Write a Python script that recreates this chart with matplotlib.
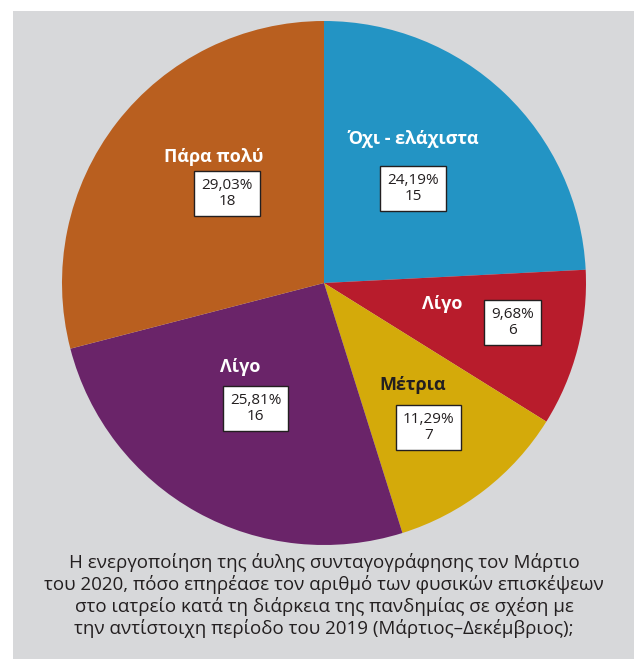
import matplotlib.pyplot as plt
from matplotlib.patches import Rectangle

plt.rcParams['font.family'] = ['Open Sans', 'DejaVu Sans']

# δεδομένα
labels = ["Όχι - ελάχιστα", "Λίγο", "Μέτρια", "Λίγο", "Πάρα πολύ"]
counts = [15, 6, 7, 16, 18]
percents = ["24,19%", "9,68%", "11,29%", "25,81%", "29,03%"]
colors = ["#2394c4", "#b81c2c", "#d4aa0a", "#6a2469", "#b95f1f"]
label_colors = ["white", "white", "#231f20", "white", "white"]

# θέσεις ετικετών (συντεταγμένες πίτας, ακτίνα 1)
label_pos = [(0.34, 0.55), (0.45, -0.08), (0.34, -0.39), (-0.32, -0.32), (-0.42, 0.48)]
box_pos = [(0.34, 0.36), (0.72, -0.15), (0.40, -0.55), (-0.26, -0.48), (-0.37, 0.34)]

caption = ("Η ενεργοποίηση της άυλης συνταγογράφησης τον Μάρτιο\n"
           "του 2020, πόσο επηρέασε τον αριθμό των φυσικών επισκέψεων\n"
           "στο ιατρείο κατά τη διάρκεια της πανδημίας σε σχέση με\n"
           "την αντίστοιχη περίοδο του 2019 (Μάρτιος–Δεκέμβριος);")

W, H = 634, 659
fig = plt.figure(figsize=(W / 100, H / 100), dpi=100)
fig.patch.set_facecolor("white")
fig.patches.append(Rectangle((13 / W, 0), 1 - 13 / W, 1 - 11 / H,
                             transform=fig.transFigure, facecolor="#d7d8da",
                             edgecolor="none", zorder=-10))

cx, cy, r = 324, 283, 262
ax = fig.add_axes([(cx - r) / W, (H - cy - r) / H, 2 * r / W, 2 * r / H])
ax.set_facecolor("none")
ax.pie(counts, colors=colors, startangle=90, counterclock=False,
       wedgeprops=dict(linewidth=0), radius=1)
ax.set_xlim(-1, 1)
ax.set_ylim(-1, 1)
ax.set_aspect("equal")
ax.axis("off")

for lab, lc, (lx, ly), (bx, by), p, c in zip(labels, label_colors, label_pos,
                                             box_pos, percents, counts):
    ax.text(lx, ly, lab, color=lc, fontsize=13, fontweight="bold",
            ha="center", va="center")
    ax.text(bx, by, f"{p}\n{c}", color="#231f20", fontsize=11,
            ha="center", va="center", linespacing=1.1,
            bbox=dict(boxstyle="square,pad=0.45", facecolor="white",
                      edgecolor="#231f20", linewidth=1))

fig.text(cx / W, 1 - 595 / H, caption, ha="center", va="center",
         fontsize=13.5, color="#231f20", linespacing=1.2)

fig.savefig("out.png", dpi=100)
